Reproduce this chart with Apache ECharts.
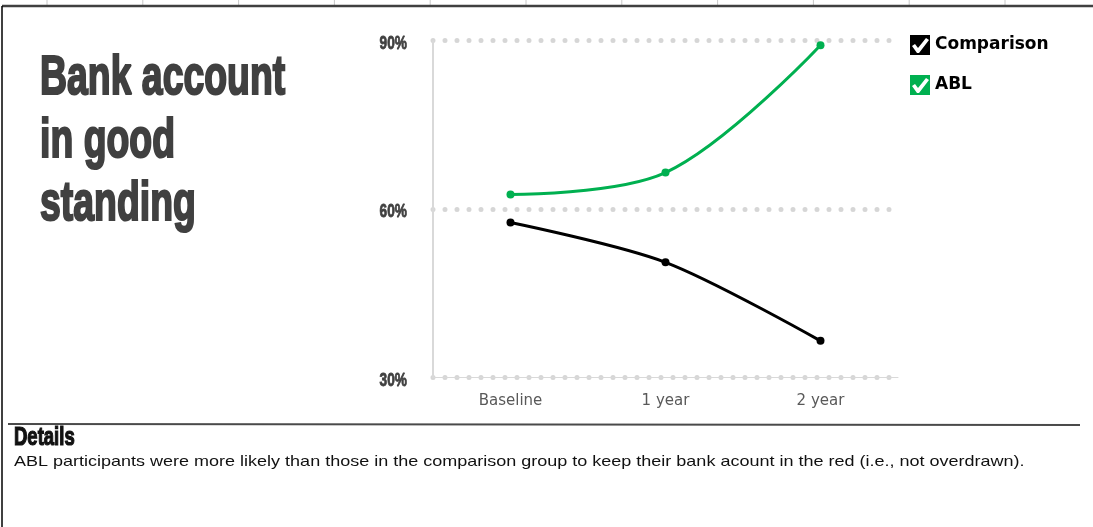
<!DOCTYPE html>
<html>
<head>
<meta charset="utf-8">
<script src="https://cdn.jsdelivr.net/npm/echarts@6/dist/echarts.min.js"></script>
<style>
  html, body { margin: 0; padding: 0; background: #fff; }
  #chart { width: 1093px; height: 527px; }
</style>
</head>
<body>
<div id="chart"></div>
<script>
// Share of participants whose bank account is in good standing
const periods = ['Baseline', '1 year', '2 year'];
const comparison = [57.6, 50.5, 36.5];
const abl = [62.6, 66.5, 89.2];
const yTicks = [30, 60, 90];
const titleLines = ['Bank account', 'in good', 'standing'];
const detailsHeading = 'Details';
const detailsText = 'ABL participants were more likely than those in the comparison group to keep their bank acount in the red (i.e., not overdrawn).';

// Checkbox legend icon: filled square with the tick cut out
const checkIcon = 'path://M0,0L20,0L20,20L0,20Z M2,11L7,18L9,18L19,5L16,3L8,13L5,9Z';

const chart = echarts.init(document.getElementById('chart'), null, { renderer: 'canvas' });

chart.setOption({
  animation: false,
  backgroundColor: '#ffffff',
  grid: { left: 433, right: 195, top: 40.7, bottom: 149.7, containLabel: false },
  legend: {
    orient: 'vertical', left: 905, top: 30, itemGap: 20,
    itemWidth: 20, itemHeight: 20,
    icon: checkIcon,
    textStyle: { fontFamily: '"DejaVu Sans", sans-serif', fontWeight: 'bold', fontSize: 17, color: '#000' },
    data: ['Comparison', 'ABL']
  },
  xAxis: {
    type: 'category', data: periods, boundaryGap: true,
    axisLine: { show: true, lineStyle: { color: '#d9d9d9', width: 1 } },
    axisTick: { show: false },
    axisLabel: { margin: 16, color: '#595959', fontFamily: '"DejaVu Sans", sans-serif', fontSize: 15 },
    splitLine: { show: false }
  },
  yAxis: {
    type: 'value', min: yTicks[0], max: yTicks[yTicks.length - 1], interval: yTicks[1] - yTicks[0],
    axisLine: { show: true, lineStyle: { color: '#d9d9d9', width: 2 } },
    axisTick: { show: false },
    axisLabel: { show: false },
    splitLine: { show: true, lineStyle: { color: '#d6d6d6', width: 5, type: [0, 12], cap: 'round' } }
  },
  series: [
    {
      name: 'Comparison', type: 'line', data: comparison, smooth: 0.3,
      color: '#000000',
      symbol: 'circle', symbolSize: 8,
      lineStyle: { width: 3, color: '#000000' },
      itemStyle: { color: '#000000' }
    },
    {
      name: 'ABL', type: 'line', data: abl, smooth: 0.35,
      color: '#00b050',
      symbol: 'circle', symbolSize: 8,
      lineStyle: { width: 3, color: '#00b050' },
      itemStyle: { color: '#00b050' }
    }
  ]
});

// Page frame and ruler marks
const rulerMarks = [];
for (let i = 0; i < 11; i++) {
  const x = 47 + i * 95.8;
  rulerMarks.push({
    type: 'line', silent: true,
    shape: { x1: x, y1: 0, x2: x, y2: 5 },
    style: { stroke: '#c8c8c8', lineWidth: 1 }
  });
}

// Condensed heavy headline
const titleGraphics = titleLines.map((t, i) => ({
  type: 'text', silent: true,
  x: 40, y: 79 + i * 63,
  scaleX: 0.68,
  style: {
    text: t,
    font: 'bold 55px "Liberation Sans", Arial, sans-serif',
    fill: '#404040', stroke: '#404040', lineWidth: 2.2,
    textAlign: 'left', textVerticalAlign: 'middle'
  }
}));

// Value-axis tick labels in the same condensed style, placed by the axis scale
const yLabelGraphics = yTicks.map(v => {
  const py = chart.convertToPixel({ yAxisIndex: 0 }, v);
  return {
    type: 'text', silent: true,
    x: 407, y: py + 3,
    scaleX: 0.72,
    style: {
      text: v + '%',
      font: 'bold 19px "Liberation Sans", Arial, sans-serif',
      fill: '#404040', stroke: '#404040', lineWidth: 0.8,
      textAlign: 'right', textVerticalAlign: 'middle'
    }
  };
});

chart.setOption({
  graphic: [
    ...rulerMarks,
    { type: 'line', silent: true, shape: { x1: 2, y1: 6, x2: 1093, y2: 6 }, style: { stroke: '#404040', lineWidth: 2.5 } },
    { type: 'line', silent: true, shape: { x1: 2, y1: 6, x2: 2, y2: 527 }, style: { stroke: '#000', lineWidth: 1.5 } },
    { type: 'line', silent: true, shape: { x1: 8, y1: 424, x2: 1080, y2: 425 }, style: { stroke: '#4a4a4a', lineWidth: 2 } },
    ...titleGraphics,
    ...yLabelGraphics,
    {
      type: 'text', silent: true, x: 14, y: 438, scaleX: 0.74,
      style: {
        text: detailsHeading,
        font: 'bold 25px "Liberation Sans", Arial, sans-serif',
        fill: '#111', stroke: '#111', lineWidth: 1.2,
        textAlign: 'left', textVerticalAlign: 'middle'
      }
    },
    {
      type: 'text', silent: true, x: 14, y: 462, scaleX: 1.2,
      style: {
        text: detailsText,
        font: '15px "Liberation Sans", Arial, sans-serif',
        fill: '#111', textAlign: 'left', textVerticalAlign: 'middle'
      }
    }
  ]
});
</script>
</body>
</html>
